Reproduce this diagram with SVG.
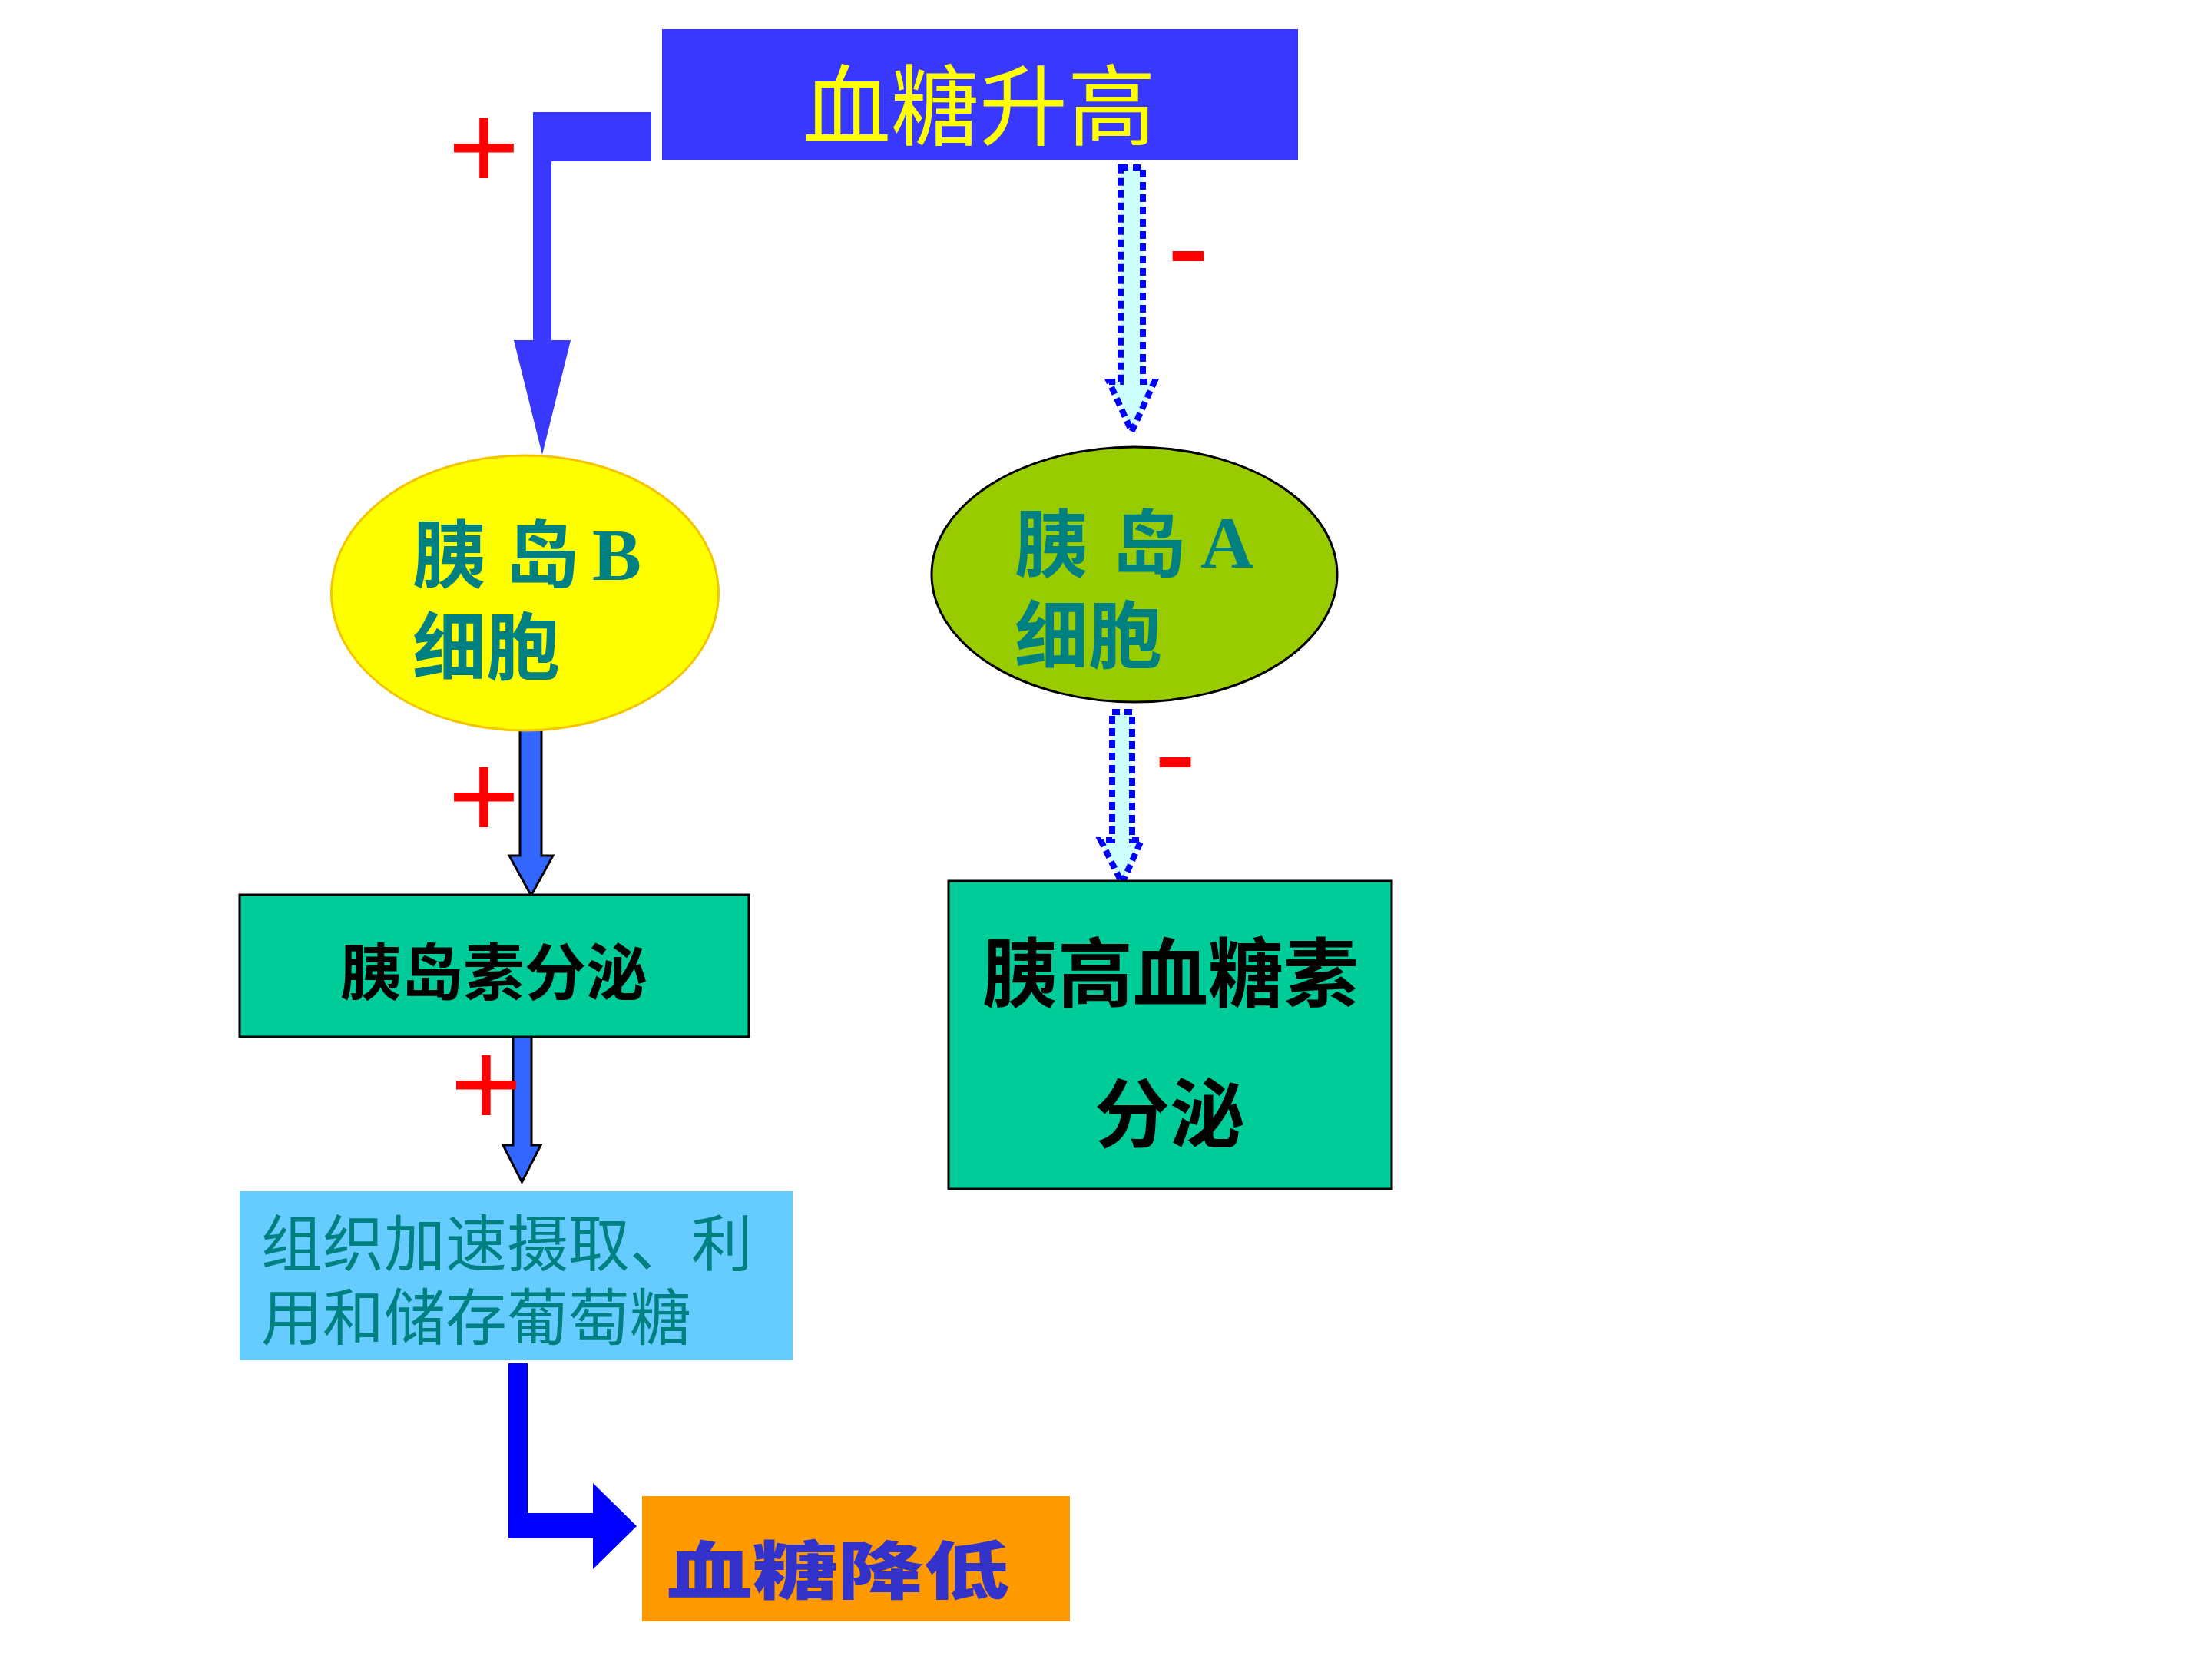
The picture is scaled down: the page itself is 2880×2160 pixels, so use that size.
<svg xmlns="http://www.w3.org/2000/svg" width="2880" height="2160" viewBox="0 0 2880 2160">
<style>
.sign{font-family:"Liberation Sans",sans-serif;fill:#FF0000;text-anchor:middle}
.cellt{font-family:"Liberation Serif","Noto Sans CJK SC",serif;font-weight:bold;fill:#008080;font-size:96px}
.boxt{font-family:"Noto Sans CJK SC",sans-serif;font-weight:bold;fill:#000000;text-anchor:middle}
.dash{fill:#CCFFFF;stroke:#0000FF;stroke-width:8;stroke-dasharray:10 6}
.solid{fill:#3366FF;stroke:#000000;stroke-width:3;stroke-linejoin:miter}
.green{fill:#00CC99;stroke:#000000;stroke-width:3}
</style>
<rect x="0" y="0" width="2880" height="2160" fill="#FFFFFF"/>

<g id="connectors">
  <polygon points="694,146 848,146 848,210 718,210 718,443 743,443 706,592 669,443 694,443" fill="#3838FF"/>
  <polygon class="dash" points="1459,218 1488,218 1488,497 1503,497 1473.5,562 1444,497 1459,497"/>
  <polygon class="dash" points="1448,927 1474,927 1474,1094 1486,1094 1461,1150 1433,1094 1448,1094"/>
  <polygon class="solid" points="677,949 705,949 705,1114 720,1114 691.5,1166 663,1114 677,1114"/>
  <polygon class="solid" points="668,1348 692,1348 692,1491 704,1491 679.5,1539 655,1491 668,1491"/>
  <polygon points="662,1775 687,1775 687,1970 772,1970 772,1931 829,1987 772,2043 772,2003 662,2003" fill="#0000FF"/>
  <text class="sign" x="630" y="246" font-size="160">+</text>
  <text class="sign" x="630" y="1091" font-size="160">+</text>
  <text class="sign" x="633" y="1466" font-size="160">+</text>
  <text class="sign" x="1547" y="378" font-size="167">-</text>
  <text class="sign" x="1530" y="1037" font-size="167">-</text>
</g>

<g id="node-high">
  <rect x="862" y="38" width="828" height="170" fill="#3838FF"/>
  <text x="1275" y="180" font-family="Noto Sans CJK SC,sans-serif" font-size="115" fill="#FFFF00" text-anchor="middle">血糖升高</text>
</g>

<g id="node-bcell">
  <ellipse cx="683.5" cy="772" rx="252" ry="179" fill="#FFFF00" stroke="#F5C400" stroke-width="3"/>
  <text class="cellt"><tspan x="537" y="757">胰</tspan><tspan x="658" y="757">岛</tspan><tspan x="771" y="755">B</tspan><tspan x="537" y="877">细胞</tspan></text>
</g>

<g id="node-acell">
  <ellipse cx="1477" cy="748" rx="264" ry="166" fill="#99CC00" stroke="#000000" stroke-width="3"/>
  <text class="cellt"><tspan x="1321" y="743">胰</tspan><tspan x="1448" y="743">岛</tspan><tspan x="1563" y="739">A</tspan><tspan x="1321" y="862">细胞</tspan></text>
</g>

<g id="node-insulin">
  <rect class="green" x="312" y="1165" width="663" height="185"/>
  <text class="boxt" x="643" y="1295" font-size="80">胰岛素分泌</text>
</g>

<g id="node-glucagon">
  <rect class="green" x="1235" y="1147" width="577" height="401"/>
  <text class="boxt" font-size="98"><tspan x="1524" y="1303">胰高血糖素</tspan><tspan x="1523" y="1486">分泌</tspan></text>
</g>

<g id="node-tissue">
  <rect x="312" y="1551" width="720" height="220" fill="#66CCFF"/>
  <text font-family="Noto Sans CJK SC,sans-serif" font-size="80" fill="#008080"><tspan x="340" y="1648">组织加速摄取、利</tspan><tspan x="340" y="1744">用和储存葡萄糖</tspan></text>
</g>

<g id="node-low">
  <rect x="836" y="1948" width="557" height="163" fill="#FF9900"/>
  <text x="868" y="2075" font-family="Noto Sans CJK SC,sans-serif" font-weight="900" font-size="82" fill="#3333CC" textLength="446" lengthAdjust="spacingAndGlyphs">血糖降低</text>
</g>
</svg>
